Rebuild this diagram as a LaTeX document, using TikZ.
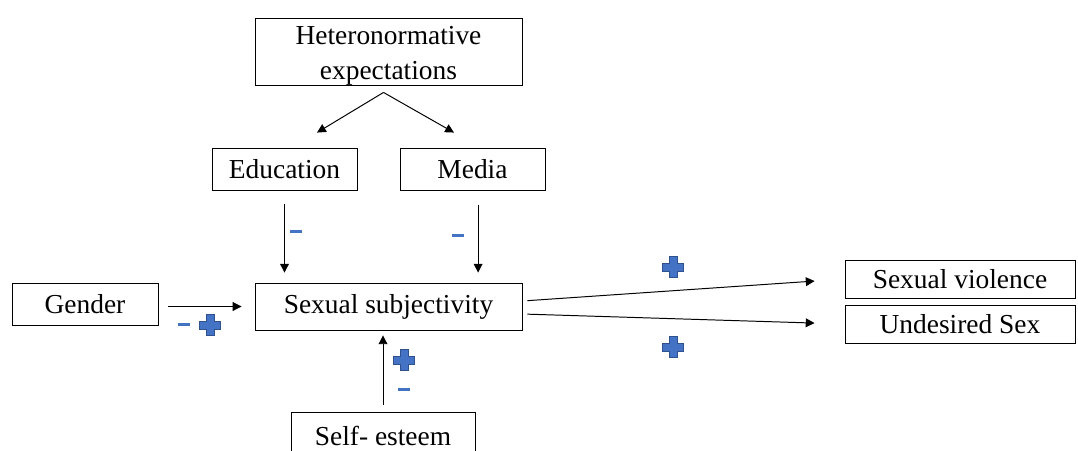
\documentclass[tikz,border=0pt]{standalone}
\usepackage{fontspec}
\setmainfont{Liberation Serif}
\usetikzlibrary{arrows.meta, positioning, calc}
\definecolor{signblue}{RGB}{68, 114, 196}
\definecolor{signedge}{RGB}{47, 82, 143}

\tikzset{
  box/.style={draw, line width=0.6pt, inner sep=0pt, align=center,
    font=\fontsize{19.5}{24.5}\selectfont},
  link/.style={line width=0.7pt, -{Triangle[length=0.22cm, width=0.22cm]}},
  possign/.pic={
    \filldraw[fill=signblue, draw=signedge, line width=0.4pt]
      (-4,-10.5) -- (4,-10.5) -- (4,-4) -- (10.5,-4) -- (10.5,4) -- (4,4)
      -- (4,10.5) -- (-4,10.5) -- (-4,4) -- (-10.5,4) -- (-10.5,-4) -- (-4,-4) -- cycle;
  },
  negsign/.pic={
    \fill[signblue] (-6,-1.5) rectangle (6,1.5);
  }
}

\begin{document}
\begin{tikzpicture}[x=0.025cm, y=-0.025cm]
    \useasboundingbox (0,0) rectangle (1078,450);

    % boxes
    \node[box, minimum width=6.675cm, minimum height=1.675cm] (hetero) at (388.5,51.5) {\rule{0pt}{0.66cm}Heteronormative\\expectations};
    \node[box, minimum width=3.625cm, minimum height=1.05cm] (edu) at (284.5,169) {Education};
    \node[box, minimum width=3.625cm, minimum height=1.05cm] (media) at (472.5,169) {Media};
    \node[box, minimum width=3.65cm, minimum height=1.05cm] (gender) at (85,304) {Gender};
    \node[box, minimum width=6.675cm, minimum height=1.175cm] (subj) at (388.5,306.5) {Sexual subjectivity};
    \node[box, minimum width=5.75cm, minimum height=0.95cm] (violence) at (960,279) {Sexual violence};
    \node[box, minimum width=5.75cm, minimum height=0.95cm] (undesired) at (960,324) {Undesired Sex};
    \node[box, minimum width=4.6cm, minimum height=1.2cm] (esteem) at (383,436) {Self- esteem};

    % split below the top box
    \coordinate (split) at ($(hetero.south)+(-5,7)$);
    \coordinate (eduend) at ($(edu.north)+(32.5,-15)$);
    \coordinate (mediaend) at ($(media.north)+(-18.5,-15)$);
    \draw[link] (split) -- (eduend);
    \draw[link] (split) -- (mediaend);

    % arrows into sexual subjectivity
    \draw[link, shorten <=0.33cm, shorten >=0.25cm] (edu.south) -- (edu.south |- subj.north);
    \draw[link, shorten <=0.375cm, shorten >=0.25cm] ([xshift=0.14cm]media.south) -- ([xshift=0.14cm]media.south |- subj.north);
    \draw[link, shorten <=0.25cm, shorten >=0.325cm] (gender.east |- subj.west) -- (subj.west);
    \draw[link, shorten <=0.175cm, shorten >=0.125cm] (esteem.north) -- (esteem.north |- subj.south);

    % arrows to outcomes
    \draw[link, shorten <=0.125cm, shorten >=0.75cm] ($(subj.east)+(0,-5.5)$) -- (violence.west);
    \draw[link, shorten <=0.125cm, shorten >=0.75cm] ($(subj.east)+(0,7.5)$) -- (undesired.west);

    % signs
    \pic at (296,231) {negsign};
    \pic at (458,235) {negsign};
    \pic at (184,324) {negsign};
    \pic at (210,325) {possign};
    \pic at (404,360) {possign};
    \pic at (404,389) {negsign};
    \pic at (673,267) {possign};
    \pic at (673,347) {possign};
  \end{tikzpicture}
\end{document}
